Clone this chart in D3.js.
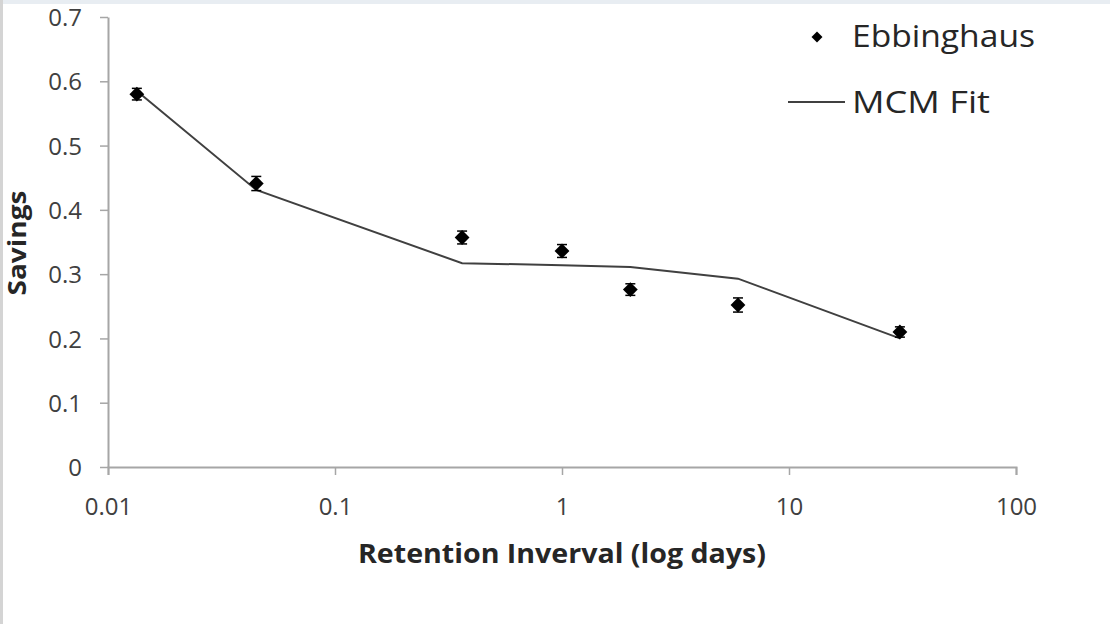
<!DOCTYPE html>
<html>
<head>
<meta charset="utf-8">
<script src="https://cdn.jsdelivr.net/npm/d3@7"></script>
<style>
    body { margin: 0; background: #fff; }
    svg { display: block; }
</style>
</head>
<body>
<svg id="chart"></svg>
<script>
// retention intervals in days
const intervals = [0.0134, 0.045, 0.363, 1.0, 2.0, 5.96, 30.8];
const savings = [0.580, 0.441, 0.357, 0.336, 0.276, 0.252, 0.210];
const errors = [0.009, 0.011, 0.010, 0.010, 0.009, 0.011, 0.008];
const fit = [0.585, 0.431, 0.317, 0.314, 0.311, 0.293, 0.200];

const xTicks = [0.01, 0.1, 1, 10, 100];
const xTickLabels = ['0.01', '0.1', '1', '10', '100'];
const yTicks = [0, 0.1, 0.2, 0.3, 0.4, 0.5, 0.6, 0.7];
const yTickLabels = ['0', '0.1', '0.2', '0.3', '0.4', '0.5', '0.6', '0.7'];

const WIDTH = 1110;
const HEIGHT = 624;
const PLOT = {left: 108, right: 1016, top: 17, bottom: 467};
const AXIS_COLOR = '#a6a6a6';
const TEXT_COLOR = '#404040';
const FONT = '"Open Sans", "Noto Sans", sans-serif';

const x = d3.scaleLog().domain([0.01, 100]).range([PLOT.left, PLOT.right]);
const y = d3.scaleLinear().domain([0, 0.7]).range([PLOT.bottom, PLOT.top]);

let svg = d3.select('#chart')
    .attr('width', WIDTH)
    .attr('height', HEIGHT);

// faint page edges from the screenshot
svg.append('rect').attr('x', 0).attr('y', 0).attr('width', WIDTH).attr('height', 4).attr('fill', '#e8edf2');
svg.append('rect').attr('x', 0).attr('y', 0).attr('width', 3).attr('height', HEIGHT).attr('fill', '#d4d4d4');

// axes
let xAxis = svg.append('g')
    .attr('transform', `translate(0, ${PLOT.bottom})`)
    .call(d3.axisBottom(x).tickValues(xTicks).tickFormat((d, i) => xTickLabels[i]).tickSize(8).tickSizeOuter(8));

let yAxis = svg.append('g')
    .attr('transform', `translate(${PLOT.left}, 0)`)
    .call(d3.axisLeft(y).tickValues(yTicks).tickFormat((d, i) => yTickLabels[i]).tickSize(8).tickSizeOuter(0));

[xAxis, yAxis].forEach(a => {
    a.select('.domain').attr('stroke', AXIS_COLOR).attr('stroke-width', 2);
    a.selectAll('.tick line').attr('stroke', AXIS_COLOR).attr('stroke-width', 1.5);
    a.selectAll('.tick text')
        .attr('fill', TEXT_COLOR)
        .style('font-family', FONT)
        .style('font-size', '24px');
});
xAxis.selectAll('.tick text').attr('dy', 0).attr('y', 48);
yAxis.selectAll('.tick text').attr('x', -26).attr('dy', '0.36em');

// axis titles
svg.append('text')
    .attr('x', 562)
    .attr('y', 563)
    .attr('text-anchor', 'middle')
    .attr('textLength', 408)
    .attr('lengthAdjust', 'spacingAndGlyphs')
    .style('font-family', FONT)
    .style('font-size', '26px')
    .style('font-weight', 'bold')
    .attr('fill', '#262626')
    .text('Retention Inverval (log days)');

svg.append('text')
    .attr('transform', 'translate(26, 243) rotate(-90)')
    .attr('text-anchor', 'middle')
    .attr('textLength', 105)
    .attr('lengthAdjust', 'spacingAndGlyphs')
    .style('font-family', FONT)
    .style('font-size', '25px')
    .style('font-weight', 'bold')
    .attr('fill', '#262626')
    .text('Savings');

// MCM fit line
const line = d3.line()
    .x((d, i) => x(intervals[i]))
    .y(d => y(d));

svg.append('path')
    .datum(fit)
    .attr('d', line)
    .attr('fill', 'none')
    .attr('stroke', '#404040')
    .attr('stroke-width', 2);

// Ebbinghaus points with error bars
let points = svg.selectAll('.point')
    .data(savings)
    .enter()
    .append('g')
    .classed('point', true);

points.append('line')
    .attr('x1', (d, i) => x(intervals[i]))
    .attr('x2', (d, i) => x(intervals[i]))
    .attr('y1', (d, i) => y(d - errors[i]))
    .attr('y2', (d, i) => y(d + errors[i]))
    .attr('stroke', '#000')
    .attr('stroke-width', 1.5);

[-1, 1].forEach(sign => {
    points.append('line')
        .attr('x1', (d, i) => x(intervals[i]) - 5)
        .attr('x2', (d, i) => x(intervals[i]) + 5)
        .attr('y1', (d, i) => y(d + sign * errors[i]))
        .attr('y2', (d, i) => y(d + sign * errors[i]))
        .attr('stroke', '#000')
        .attr('stroke-width', 1.5);
});

points.append('path')
    .attr('d', d3.symbol().type(d3.symbolSquare).size(110))
    .attr('transform', (d, i) => `translate(${x(intervals[i])}, ${y(d)}) rotate(45)`)
    .attr('fill', '#000');

// legend
let legend = svg.append('g');

legend.append('path')
    .attr('d', d3.symbol().type(d3.symbolSquare).size(60))
    .attr('transform', 'translate(817, 37) rotate(45)')
    .attr('fill', '#000');

legend.append('text')
    .attr('x', 852)
    .attr('y', 47)
    .attr('textLength', 183)
    .attr('lengthAdjust', 'spacingAndGlyphs')
    .style('font-family', FONT)
    .style('font-size', '31px')
    .attr('fill', '#262626')
    .text('Ebbinghaus');

legend.append('line')
    .attr('x1', 788)
    .attr('x2', 845)
    .attr('y1', 102)
    .attr('y2', 102)
    .attr('stroke', '#404040')
    .attr('stroke-width', 2);

legend.append('text')
    .attr('x', 852)
    .attr('y', 113)
    .attr('textLength', 138)
    .attr('lengthAdjust', 'spacingAndGlyphs')
    .style('font-family', FONT)
    .style('font-size', '31px')
    .attr('fill', '#262626')
    .text('MCM Fit');
</script>
</body>
</html>
